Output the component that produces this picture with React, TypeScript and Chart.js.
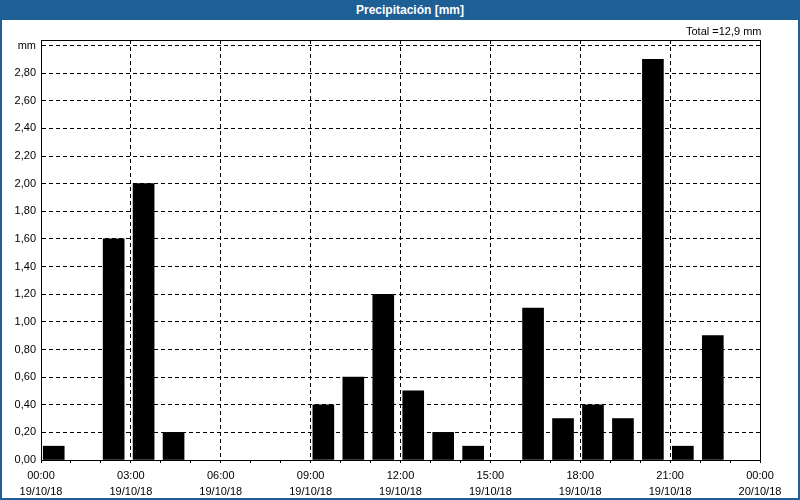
import React, { useEffect, useRef } from "react";
import { Chart, registerables } from "chart.js";

Chart.register(...registerables);

// ---- data ----
const HOURS = [0, 1, 2, 3, 4, 5, 6, 7, 8, 9, 10, 11, 12, 13, 14, 15, 16, 17, 18, 19, 20, 21, 22, 23];
const PRECIP = [0.1, 0, 1.6, 2.0, 0.2, 0, 0, 0, 0, 0.4, 0.6, 1.2, 0.5, 0.2, 0.1, 0, 1.1, 0.3, 0.4, 0.3, 2.9, 0.1, 0.9, 0];
const X_TICK_HOURS = [0, 3, 6, 9, 12, 15, 18, 21, 24];
const X_TICK_TIMES = ["00:00", "03:00", "06:00", "09:00", "12:00", "15:00", "18:00", "21:00", "00:00"];
const X_TICK_DATES = ["19/10/18", "19/10/18", "19/10/18", "19/10/18", "19/10/18", "19/10/18", "19/10/18", "19/10/18", "20/10/18"];
const Y_TICK_VALUES = [0, 0.2, 0.4, 0.6, 0.8, 1.0, 1.2, 1.4, 1.6, 1.8, 2.0, 2.2, 2.4, 2.6, 2.8, 3.0];
const Y_TICK_LABELS = ["0,00", "0,20", "0,40", "0,60", "0,80", "1,00", "1,20", "1,40", "1,60", "1,80", "2,00", "2,20", "2,40", "2,60", "2,80", "mm"];
const TITLE = "Precipitación [mm]";
const TOTAL_LABEL = "Total =12,9 mm";

const Y_MAX = 3.04;
const BAR_OFFSET = 0.425; // bar position inside its hour slot
const FONT = '"Liberation Sans", Arial, sans-serif';
const BLUE = "#1e6096";

const framePlugin = {
  id: "frame",
  afterDraw(chart: any) {
    const { ctx, chartArea } = chart;
    ctx.save();
    ctx.strokeStyle = "#000";
    ctx.lineWidth = 1;
    ctx.strokeRect(chartArea.left + 0.5, chartArea.top + 0.5, chartArea.right - chartArea.left, chartArea.bottom - chartArea.top);
    ctx.font = "11px " + FONT;
    ctx.fillStyle = "#000";
    ctx.textAlign = "right";
    ctx.textBaseline = "alphabetic";
    ctx.fillText(TOTAL_LABEL, chartArea.right + 1.5, 15);
    ctx.restore();
  },
};

function PrecipChart() {
  const ref = useRef<HTMLCanvasElement>(null);
  useEffect(() => {
    if (!ref.current) return;
    const points = HOURS.map((h, i) => ({ x: h + BAR_OFFSET, y: PRECIP[i] })).filter((p) => p.y > 0);
    const chart = new Chart(ref.current, {
      type: "bar",
      data: {
        datasets: [
          {
            data: points,
            backgroundColor: "#000",
            borderWidth: 0,
            barThickness: 21,
          } as any,
        ],
      },
      options: {
        animation: false,
        responsive: false,
        maintainAspectRatio: false,
        layout: { padding: { top: 20, right: 38, left: 0, bottom: 0 } },
        plugins: {
          legend: { display: false },
          tooltip: { enabled: false },
          title: { display: false },
        },
        scales: {
          x: {
            type: "linear",
            min: 0,
            max: 24,
            offset: false,
            afterBuildTicks: (s: any) => {
              const t: any[] = [];
              for (let h = 0; h <= 24; h++) t.push({ value: h });
              s.ticks = t;
            },
            afterFit: (s: any) => {
              s.height = 38;
            },
            grid: {
              offset: false,
              color: (c: any) => (c.tick && X_TICK_HOURS.includes(c.tick.value) ? "#000" : "rgba(0,0,0,0)"),
              tickColor: "#000",
              tickLength: 3,
              drawTicks: true,
              lineWidth: 1,
            },
            border: { display: true, color: "#000", dash: [4, 3] },
            ticks: {
              autoSkip: false,
              maxRotation: 0,
              minRotation: 0,
              color: "#000",
              padding: 5,
              font: { family: FONT, size: 11, lineHeight: 1.45 },
              callback: (v: any) => {
                const i = X_TICK_HOURS.indexOf(Number(v));
                return i >= 0 ? [X_TICK_TIMES[i], X_TICK_DATES[i]] : "";
              },
            },
          },
          y: {
            min: 0,
            max: Y_MAX,
            afterBuildTicks: (s: any) => {
              s.ticks = Y_TICK_VALUES.map((v) => ({ value: v }));
            },
            afterFit: (s: any) => {
              s.width = 39;
            },
            grid: { color: "#000", drawTicks: false, lineWidth: 1 },
            border: { display: true, color: "#000", dash: [4, 3] },
            ticks: {
              color: "#000",
              padding: 5,
              font: { family: FONT, size: 11 },
              callback: (v: any) => {
                const i = Y_TICK_VALUES.findIndex((t) => Math.abs(t - Number(v)) < 1e-6);
                return i >= 0 ? Y_TICK_LABELS[i] : "";
              },
            },
          },
        },
      } as any,
      plugins: [framePlugin],
    });
    return () => chart.destroy();
  }, []);
  return <canvas ref={ref} width={796} height={478} style={{ display: "block", width: 796, height: 478 }} />;
}

export default function App() {
  return (
    <div style={{ position: "absolute", left: 0, top: 0, width: 800, height: 500, background: BLUE, overflow: "hidden" }}>
      <div
        style={{
          position: "absolute",
          left: 0,
          top: 0,
          width: 800,
          height: 20,
          lineHeight: "20px",
          paddingLeft: 20,
          boxSizing: "border-box",
          textAlign: "center",
          color: "#fff",
          fontFamily: FONT,
          fontWeight: "bold",
          fontSize: 12,
        }}
      >
        {TITLE}
      </div>
      <div style={{ position: "absolute", left: 2, top: 20, width: 796, height: 478, background: "#fff" }}>
        <PrecipChart />
      </div>
    </div>
  );
}
